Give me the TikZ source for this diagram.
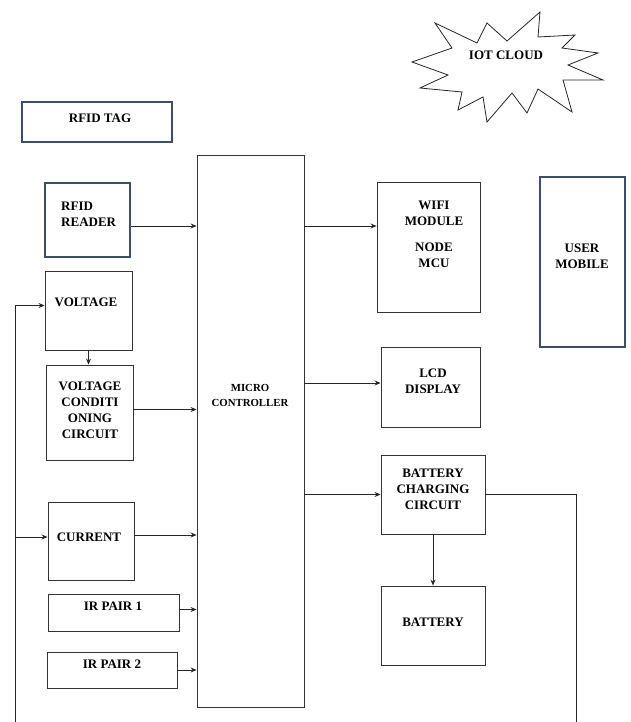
\documentclass[tikz,border=0pt]{standalone}
\usepackage{fontspec}
\setmainfont{Liberation Serif}
\usepackage{tikz}
\usetikzlibrary{arrows.meta}
\tikzset{>=latex}
\tikzset{
	blk/.style={draw=black!80, line width=0.9pt, minimum width=#1, inner sep=0pt},
	bluebox/.style={draw={rgb,255:red,62;green,78;blue,100}, line width=1.6pt, inner sep=0pt},
	lbl/.style={font=\bfseries\fontsize{13}{16}\selectfont, align=center, inner sep=0pt},
	wire/.style={line width=0.8pt, black!85}
}

\begin{document}
\begin{tikzpicture}[x=1pt, y=-1pt, >={Stealth[length=6pt,width=5pt]}]
		\useasboundingbox (0,0) rectangle (630,722);

		% Cloud
		\draw[wire] (435,23) -- (477,43) -- (487,23) -- (507,41) -- (540,12) -- (538,37)
			-- (575,35) -- (562,48) -- (598,53) -- (568,65) -- (603,80) -- (563,80)
			-- (572,112) -- (538,89) -- (527,113) -- (512,93) -- (487,122) -- (483,97)
			-- (458,110) -- (462,92) -- (420,88) -- (448,75) -- (412,62) -- (452,48) -- cycle;
		\node[lbl] (cloud) at (506,55) {IOT CLOUD};

		% Left side blocks
		\node[bluebox, minimum width=150pt, minimum height=40pt] (tag) at (97,122) {};
		\node[lbl] (tagtxt) at (100,118) {RFID TAG};
		\node[bluebox, minimum width=85pt, minimum height=74pt] (reader) at (87.5,220) {};
		\node[lbl, align=left, anchor=west] (readertxt) at (61,214) {RFID\\READER};
		\node[blk=87pt, minimum height=79pt] (volt) at (88.5,310.5) {};
		\node[lbl] (volttxt) at (86,302) {VOLTAGE};
		\node[blk=87pt, minimum height=95pt] (cond) at (89.5,412.5) {};
		\node[lbl] (condtxt) at (90,410) {VOLTAGE\\CONDITI\\ONING\\CIRCUIT};
		\node[blk=86pt, minimum height=78pt] (curr) at (91,541) {};
		\node[lbl] (currtxt) at (89,537) {CURRENT};
		\node[blk=131pt, minimum height=37pt] (ir1) at (113.5,612.5) {};
		\node[lbl] (ir1txt) at (113,606) {IR PAIR 1};
		\node[blk=130pt, minimum height=36pt] (ir2) at (112,670) {};
		\node[lbl] (ir2txt) at (112,664) {IR PAIR 2};

		% Controller
		\node[blk=107pt, minimum height=552pt] (mcu) at (250.5,431) {};
		\node[lbl, font=\bfseries\fontsize{10.8}{15}\selectfont] (mcutxt) at (250,395) {MICRO\\CONTROLLER};

		% Right side blocks
		\node[blk=103pt, minimum height=130pt] (wifi) at (428.5,247) {};
		\node[lbl] (wifitxt) at (434,234) {WIFI\\MODULE\\[10pt]NODE\\MCU};
		\node[bluebox, minimum width=85pt, minimum height=170pt] (mobile) at (582.5,262) {};
		\node[lbl] (mobiletxt) at (582,256) {USER\\MOBILE};
		\node[blk=99pt, minimum height=80pt] (lcd) at (430.5,387) {};
		\node[lbl] (lcdtxt) at (433,381) {LCD\\DISPLAY};
		\node[blk=104pt, minimum height=79pt] (charge) at (433,494.5) {};
		\node[lbl] (chargetxt) at (433,489) {BATTERY\\CHARGING\\CIRCUIT};
		\node[blk=104pt, minimum height=79pt] (batt) at (433,625.5) {};
		\node[lbl] (batttxt) at (433,622) {BATTERY};

		% Inputs to controller
		\draw[wire, ->] ([yshift=-6pt]reader.east) -- ([yshift=-6pt]reader.east -| mcu.west);
		\draw[wire, ->] (volt.south) -- (volt.south |- cond.north);
		\draw[wire, ->] ([yshift=3pt]cond.east) -- ([yshift=3pt]cond.east -| mcu.west);
		\draw[wire, ->] ([yshift=6pt]curr.east) -- ([yshift=6pt]curr.east -| mcu.west);
		\draw[wire, ->] ([yshift=3pt]ir1.east) -- ([yshift=3pt]ir1.east -| mcu.west);
		\draw[wire, ->] (ir2.east) -- (ir2.east -| mcu.west);

		% Outputs from controller
		\coordinate (wifiin) at ([yshift=21pt]wifi.west);
		\draw[wire, ->] (wifiin -| mcu.east) -- (wifiin);
		\draw[wire, ->] ([yshift=4pt]lcd.west -| mcu.east) -- ([yshift=4pt]lcd.west);
		\draw[wire, ->] (charge.west -| mcu.east) -- (charge.west);
		\draw[wire, ->] (charge.south) -- (batt.north);

		% Feedback lines
		\coordinate (fbr) at (576,722);
		\coordinate (fbl) at (15,722);
		\draw[wire] (charge.east) -| (fbr);
		\draw[wire, ->] (fbl) |- ([yshift=5pt]volt.west);
		\draw[wire, ->] (fbl |- curr.west) ++(0,-4) -- ([yshift=4pt]curr.west);
	\end{tikzpicture}
\end{document}
